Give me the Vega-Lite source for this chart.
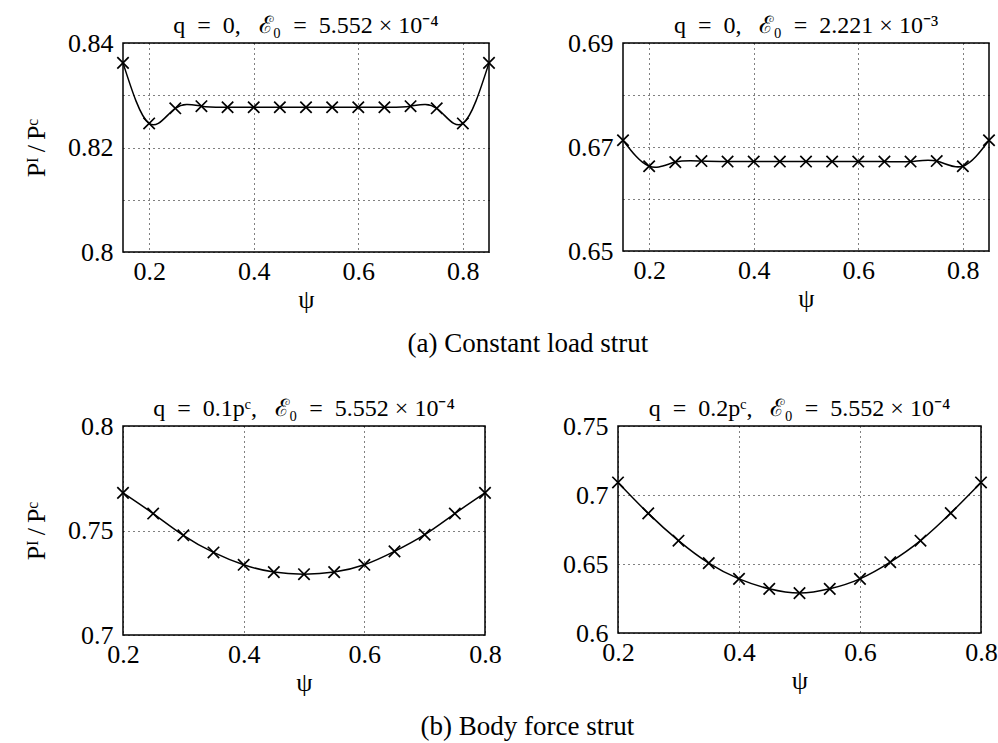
{
  "$schema": "https://vega.github.io/schema/vega-lite/v6.json",
  "background": "white",
  "padding": {"left": 22, "top": 13, "right": 2, "bottom": 2},
  "config": {
    "font": "Liberation Serif",
    "view": {"stroke": "black", "strokeWidth": 1.5},
    "axis": {
      "grid": true, "gridColor": "black", "gridDash": [1, 4], "gridOpacity": 1, "gridWidth": 1,
      "domain": false, "ticks": false, "labelFlush": false, "labelOverlap": false,
      "labelFont": "Liberation Serif", "labelFontSize": 26, "labelColor": "black", "labelPadding": 6,
      "titleFont": "Liberation Serif", "titleFontSize": 26, "titleFontWeight": "normal", "titleColor": "black"
    },
    "axisX": {"titlePadding": 2},
    "axisY": {"titlePadding": 18, "labelPadding": 10},
    "title": {"font": "Liberation Serif", "fontSize": 24, "fontWeight": "normal", "color": "black", "offset": -8}
  },
  "spacing": 39,
  "vconcat": [
    {
      "hconcat": [
        {
          "width": 366, "height": 209,
          "title": {"text": "q\u2002=\u20020,\u2002 ℰ₀\u2002=\u20025.552 × 10⁻⁴"},
          "data": {"values": [
            {"psi": 0.15, "r": 0.8362}, {"psi": 0.2, "r": 0.8246}, {"psi": 0.25, "r": 0.8275},
            {"psi": 0.3, "r": 0.8279}, {"psi": 0.35, "r": 0.8277}, {"psi": 0.4, "r": 0.8277},
            {"psi": 0.45, "r": 0.8277}, {"psi": 0.5, "r": 0.8277}, {"psi": 0.55, "r": 0.8277},
            {"psi": 0.6, "r": 0.8277}, {"psi": 0.65, "r": 0.8277}, {"psi": 0.7, "r": 0.8279},
            {"psi": 0.75, "r": 0.8275}, {"psi": 0.8, "r": 0.8246}, {"psi": 0.85, "r": 0.8362}
          ]},
          "encoding": {
            "x": {"field": "psi", "type": "quantitative", "scale": {"domain": [0.15, 0.85], "nice": false, "zero": false},
                  "axis": {"values": [0.2, 0.4, 0.6, 0.8], "format": ".1f", "title": "ψ"}},
            "y": {"field": "r", "type": "quantitative", "scale": {"domain": [0.8, 0.84], "nice": false, "zero": false},
                  "axis": {"values": [0.8, 0.81, 0.82, 0.83, 0.84], "labelExpr": "round(datum.value*100)%2==0 ? format(datum.value,'~g') : ''", "title": "Pᴵ\u2009/\u2009Pᶜ"}}
          },
          "layer": [
            {"mark": {"type": "line", "interpolate": "natural", "color": "black", "strokeWidth": 1.5}},
            {"mark": {"type": "point", "shape": "M-1,-1L1,1M-1,1L1,-1", "size": 130, "filled": false, "color": "black", "strokeWidth": 1.7, "opacity": 1}}
          ]
        },
        {
          "width": 366, "height": 208,
          "title": {"text": "q\u2002=\u20020,\u2002 ℰ₀\u2002=\u20022.221 × 10⁻³"},
          "data": {"values": [
            {"psi": 0.15, "r": 0.6713}, {"psi": 0.2, "r": 0.6663}, {"psi": 0.25, "r": 0.6671},
            {"psi": 0.3, "r": 0.6673}, {"psi": 0.35, "r": 0.6672}, {"psi": 0.4, "r": 0.6672},
            {"psi": 0.45, "r": 0.6672}, {"psi": 0.5, "r": 0.6672}, {"psi": 0.55, "r": 0.6672},
            {"psi": 0.6, "r": 0.6672}, {"psi": 0.65, "r": 0.6672}, {"psi": 0.7, "r": 0.6672},
            {"psi": 0.75, "r": 0.6673}, {"psi": 0.8, "r": 0.6663}, {"psi": 0.85, "r": 0.6713}
          ]},
          "encoding": {
            "x": {"field": "psi", "type": "quantitative", "scale": {"domain": [0.15, 0.85], "nice": false, "zero": false},
                  "axis": {"values": [0.2, 0.4, 0.6, 0.8], "format": ".1f", "title": "ψ"}},
            "y": {"field": "r", "type": "quantitative", "scale": {"domain": [0.65, 0.69], "nice": false, "zero": false},
                  "axis": {"values": [0.65, 0.66, 0.67, 0.68, 0.69], "labelExpr": "round(datum.value*100)%2==1 ? format(datum.value,'~g') : ''", "title": null}}
          },
          "layer": [
            {"mark": {"type": "line", "interpolate": "natural", "color": "black", "strokeWidth": 1.5}},
            {"mark": {"type": "point", "shape": "M-1,-1L1,1M-1,1L1,-1", "size": 130, "filled": false, "color": "black", "strokeWidth": 1.7, "opacity": 1}}
          ]
        }
      ],
      "spacing": 134,
      "bounds": "flush",
      "title": {"text": "(a) Constant load strut", "orient": "bottom", "anchor": "middle", "fontSize": 27, "offset": 18, "dx": 17}
    },
    {
      "hconcat": [
        {
          "width": 362, "height": 209,
          "title": {"text": "q\u2002=\u20020.1pᶜ,\u2002 ℰ₀\u2002=\u20025.552 × 10⁻⁴"},
          "data": {"values": [
            {"psi": 0.2, "r": 0.768}, {"psi": 0.25, "r": 0.7581}, {"psi": 0.3, "r": 0.7477},
            {"psi": 0.35, "r": 0.7395}, {"psi": 0.4, "r": 0.7336}, {"psi": 0.45, "r": 0.7301},
            {"psi": 0.5, "r": 0.7291}, {"psi": 0.55, "r": 0.7301}, {"psi": 0.6, "r": 0.7336},
            {"psi": 0.65, "r": 0.74}, {"psi": 0.7, "r": 0.748}, {"psi": 0.75, "r": 0.7581},
            {"psi": 0.8, "r": 0.768}
          ]},
          "encoding": {
            "x": {"field": "psi", "type": "quantitative", "scale": {"domain": [0.2, 0.8], "nice": false, "zero": false},
                  "axis": {"values": [0.2, 0.4, 0.6, 0.8], "format": ".1f", "title": "ψ"}},
            "y": {"field": "r", "type": "quantitative", "scale": {"domain": [0.7, 0.8], "nice": false, "zero": false},
                  "axis": {"values": [0.7, 0.75, 0.8], "format": "~g", "title": "Pᴵ\u2009/\u2009Pᶜ"}}
          },
          "layer": [
            {"mark": {"type": "line", "interpolate": "natural", "color": "black", "strokeWidth": 1.5}},
            {"mark": {"type": "point", "shape": "M-1,-1L1,1M-1,1L1,-1", "size": 130, "filled": false, "color": "black", "strokeWidth": 1.7, "opacity": 1}}
          ]
        },
        {
          "width": 363, "height": 207,
          "title": {"text": "q\u2002=\u20020.2pᶜ,\u2002 ℰ₀\u2002=\u20025.552 × 10⁻⁴"},
          "data": {"values": [
            {"psi": 0.2, "r": 0.7091}, {"psi": 0.25, "r": 0.6867}, {"psi": 0.3, "r": 0.6669},
            {"psi": 0.35, "r": 0.6506}, {"psi": 0.4, "r": 0.6392}, {"psi": 0.45, "r": 0.632},
            {"psi": 0.5, "r": 0.6289}, {"psi": 0.55, "r": 0.632}, {"psi": 0.6, "r": 0.6392},
            {"psi": 0.65, "r": 0.6513}, {"psi": 0.7, "r": 0.6669}, {"psi": 0.75, "r": 0.6869},
            {"psi": 0.8, "r": 0.7091}
          ]},
          "encoding": {
            "x": {"field": "psi", "type": "quantitative", "scale": {"domain": [0.2, 0.8], "nice": false, "zero": false},
                  "axis": {"values": [0.2, 0.4, 0.6, 0.8], "format": ".1f", "title": "ψ"}},
            "y": {"field": "r", "type": "quantitative", "scale": {"domain": [0.6, 0.75], "nice": false, "zero": false},
                  "axis": {"values": [0.6, 0.65, 0.7, 0.75], "format": "~g", "title": null}}
          },
          "layer": [
            {"mark": {"type": "line", "interpolate": "natural", "color": "black", "strokeWidth": 1.5}},
            {"mark": {"type": "point", "shape": "M-1,-1L1,1M-1,1L1,-1", "size": 130, "filled": false, "color": "black", "strokeWidth": 1.7, "opacity": 1}}
          ]
        }
      ],
      "spacing": 133,
      "bounds": "flush",
      "title": {"text": "(b) Body force strut", "orient": "bottom", "anchor": "middle", "fontSize": 27, "offset": 18, "dx": 17}
    }
  ]
}
